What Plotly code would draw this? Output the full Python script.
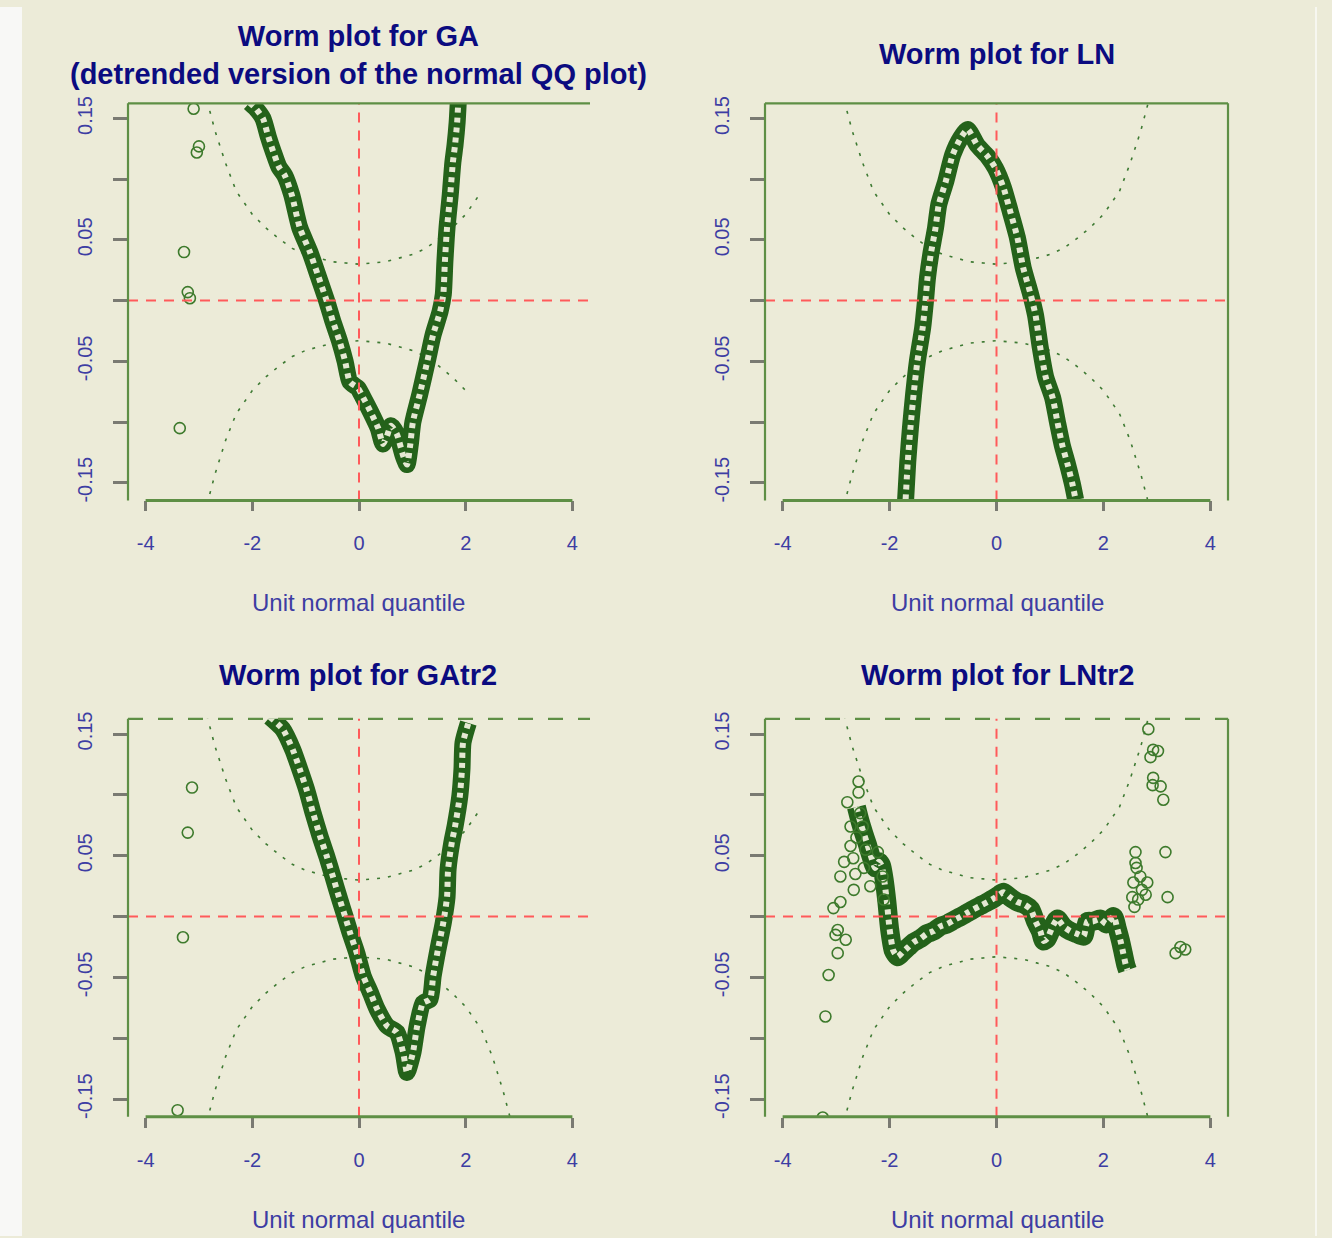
import plotly.graph_objects as go

W, H = 1332, 1238

# ---------------- data ----------------
titles = ["Worm plot for GA<br>(detrended version of the normal QQ plot)",
          "Worm plot for LN", "Worm plot for GAtr2", "Worm plot for LNtr2"]
xlabel = "Unit normal quantile"

x_ticks = [-4, -2, 0, 2, 4]
x_tick_text = ["-4", "-2", "0", "2", "4"]
y_ticks = [-0.15, -0.10, -0.05, 0.0, 0.05, 0.10, 0.15]
y_tick_text = ["-0.15", "", "-0.05", "", "0.05", "", "0.15"]

# confidence band (dotted curves)
band_z = [-2.85, -2.7, -2.5, -2.3, -2.0, -1.75, -1.5, -1.25, -1.0, -0.75, -0.5, -0.25, 0.0,
          0.25, 0.5, 0.75, 1.0, 1.25, 1.5, 1.75, 2.0, 2.3, 2.5, 2.7, 2.85]
band_upper = [0.165, 0.140, 0.113, 0.090, 0.071, 0.060, 0.051, 0.043, 0.038, 0.035, 0.032, 0.031, 0.030,
              0.031, 0.032, 0.035, 0.038, 0.043, 0.051, 0.060, 0.071, 0.090, 0.113, 0.140, 0.165]
band_lower = [-0.168, -0.143, -0.115, -0.093, -0.074, -0.063, -0.054, -0.046, -0.041, -0.038, -0.035, -0.034, -0.033,
              -0.034, -0.035, -0.038, -0.041, -0.046, -0.054, -0.063, -0.074, -0.093, -0.115, -0.143, -0.168]
# how far to the right each panel's band curves are visible
band_upper_zmax = [2.3, 2.85, 2.4, 2.85]
band_lower_zmax = [2.2, 2.85, 2.85, 2.85]

# Worm for GA
ga_z = [-2.05, -1.93, -1.80, -1.70, -1.61, -1.50, -1.39, -1.26, -1.11, -0.92, -0.77, -0.60, -0.49, -0.36,
        -0.26, -0.17, -0.02, 0.08, 0.21, 0.36, 0.45, 0.52, 0.60, 0.71, 0.83, 0.90, 0.96, 1.01, 1.14, 1.28,
        1.39, 1.52, 1.58, 1.61, 1.65, 1.71, 1.76, 1.80, 1.84, 1.86]
ga_y = [0.163, 0.158, 0.150, 0.135, 0.123, 0.110, 0.103, 0.087, 0.060, 0.040, 0.021, -0.001, -0.017, -0.034,
        -0.050, -0.067, -0.072, -0.080, -0.091, -0.105, -0.118, -0.112, -0.103, -0.110, -0.128, -0.135, -0.119,
        -0.100, -0.077, -0.050, -0.028, -0.009, 0.005, 0.032, 0.060, 0.087, 0.114, 0.128, 0.147, 0.163]
ga_out_z = [-3.10, -3.04, -3.00, -3.28, -3.21, -3.17, -3.36]
ga_out_y = [0.158, 0.122, 0.127, 0.040, 0.007, 0.002, -0.105]

# Worm for LN
ln_z = [-1.70, -1.66, -1.61, -1.55, -1.48, -1.38, -1.33, -1.29, -1.23, -1.14, -1.08, -0.95, -0.82, -0.67,
        -0.54, -0.36, -0.17, -0.02, 0.13, 0.26, 0.39, 0.50, 0.64, 0.73, 0.82, 0.92, 1.05, 1.14, 1.23, 1.33,
        1.42, 1.48]
ln_y = [-0.164, -0.133, -0.105, -0.077, -0.050, -0.022, -0.001, 0.019, 0.038, 0.060, 0.079, 0.098, 0.120,
        0.134, 0.141, 0.128, 0.119, 0.109, 0.093, 0.073, 0.052, 0.027, 0.005, -0.012, -0.039, -0.063, -0.080,
        -0.100, -0.119, -0.135, -0.151, -0.164]

# Worm for GAtr2
gat_z = [-1.67, -1.43, -1.24, -1.11, -0.98, -0.86, -0.73, -0.60, -0.49, -0.36, -0.26, -0.17, -0.04, 0.08,
         0.21, 0.34, 0.53, 0.71, 0.83, 0.90, 1.01, 1.09, 1.20, 1.33, 1.39, 1.48, 1.58, 1.65, 1.67, 1.74,
         1.80, 1.89, 1.93, 1.95, 2.05]
gat_y = [0.164, 0.154, 0.137, 0.121, 0.104, 0.085, 0.066, 0.049, 0.033, 0.014, 0.000, -0.013, -0.030, -0.049,
         -0.062, -0.076, -0.090, -0.095, -0.112, -0.128, -0.112, -0.090, -0.071, -0.068, -0.049, -0.027, -0.005,
         0.016, 0.039, 0.061, 0.074, 0.099, 0.121, 0.143, 0.159]
gat_out_z = [-3.13, -3.21, -3.30, -3.40]
gat_out_y = [0.106, 0.069, -0.017, -0.159]

# Worm for LNtr2
lnt_z = [-2.62, -2.55, -2.48, -2.42, -2.35, -2.27, -2.20, -2.15, -2.10, -2.05, -2.00, -1.93, -1.85, -1.75,
         -1.65, -1.55, -1.42, -1.30, -1.18, -1.05, -0.92, -0.80, -0.67, -0.55, -0.43, -0.30, -0.17, -0.05,
         0.05, 0.13, 0.25, 0.39, 0.52, 0.64, 0.73, 0.82, 0.88, 0.95, 1.05, 1.14, 1.25, 1.38, 1.50, 1.63,
         1.70, 1.80, 1.94, 2.05, 2.19, 2.26, 2.32, 2.37, 2.42, 2.45]
lnt_y = [0.090, 0.078, 0.068, 0.060, 0.050, 0.040, 0.045, 0.042, 0.030, 0.012, -0.010, -0.028, -0.033,
         -0.029, -0.025, -0.021, -0.018, -0.014, -0.012, -0.008, -0.006, -0.003, 0.000, 0.003, 0.006, 0.009,
         0.012, 0.015, 0.018, 0.020, 0.016, 0.012, 0.010, 0.006, -0.004, -0.012, -0.020, -0.018, -0.008,
         -0.002, -0.008, -0.012, -0.014, -0.016, -0.004, -0.004, -0.002, -0.006, 0.000, -0.010, -0.020,
         -0.030, -0.040, -0.044]
lnt_out_z = [-2.58, -2.58, -2.79, -2.73, -2.50, -2.73, -2.62, -2.45, -2.22, -2.92, -2.64, -2.67, -2.36,
             -2.13, -2.11, -2.92, -3.05, -2.97, -2.82, -2.97, -2.85, -2.55, -2.68, -2.48, -3.01,
             -3.14, -3.20, -3.25,
             2.60, 2.60, 2.69, 2.56, 2.82, 2.54, 2.79, 2.65, 2.62, 2.72, 2.58,
             2.84, 2.93, 3.02, 2.88, 2.93, 3.07, 2.92, 3.12,
             3.16, 3.20, 3.44, 3.35, 3.53]
lnt_out_y = [0.111, 0.102, 0.094, 0.074, 0.074, 0.058, 0.065, 0.055, 0.053, 0.033, 0.035, 0.022, 0.025,
             0.033, 0.014, 0.012, 0.007, -0.011, -0.019, -0.030, 0.045, 0.085, 0.048, 0.040, -0.015,
             -0.048, -0.082, -0.165,
             0.053, 0.044, 0.033, 0.028, 0.028, 0.016, 0.018, 0.014, 0.040, 0.022, 0.008,
             0.154, 0.137, 0.136, 0.131, 0.114, 0.107, 0.108, 0.096,
             0.053, 0.016, -0.025, -0.030, -0.027]

worms = [(ga_z, ga_y, ga_out_z, ga_out_y),
         (ln_z, ln_y, [], []),
         (gat_z, gat_y, gat_out_z, gat_out_y),
         (lnt_z, lnt_y, lnt_out_z, lnt_out_y)]

# ---------------- styling / layout ----------------
BG = "#ECEBD8"
GREEN = "#24621A"
BOXGREEN = "#5E8F45"
BAND = "#3E7A33"
OUT = "#3D7A2C"
REF = "#FF5A5A"
TICKCOL = "#7A7A72"
LABCOL = "#3D3DA3"
TITLECOL = "#0B0B80"
FONT = "Liberation Sans, Arial, sans-serif"

# panel boxes in pixels: (left, right, top, bottom)
boxes = [(128, 590, 97, 497), (765, 1228, 97, 497), (128, 590, 717, 1118), (765, 1228, 717, 1118)]
title_pos = [(358, 48), (997, 47), (358, 673), (997, 673)]
xlab_pos = [(358, 600), (997, 600), (358, 1221), (997, 1221)]

fig = go.Figure()
shapes = []
annotations = []

for i in range(4):
    n = "" if i == 0 else str(i + 1)
    xa, ya = "x" + n, "y" + n
    l, r, t, b = boxes[i]

    # confidence band curves
    for yy, zmax in ((band_upper, band_upper_zmax[i]), (band_lower, band_lower_zmax[i])):
        zz = [z for z in band_z if z <= zmax]
        fig.add_trace(go.Scatter(x=zz, y=yy[:len(zz)], mode="lines", xaxis=xa, yaxis=ya,
                                 line=dict(color=BAND, width=1.6, dash="3px,8px"),
                                 showlegend=False, hoverinfo="skip"))
    wz, wy, oz, oy = worms[i]
    wide = 19 if i == 3 else 17
    fig.add_trace(go.Scatter(x=wz, y=wy, mode="lines", xaxis=xa, yaxis=ya,
                             line=dict(color=GREEN, width=wide, shape="spline", smoothing=0.6),
                             showlegend=False))
    fig.add_trace(go.Scatter(x=wz, y=wy, mode="lines", xaxis=xa, yaxis=ya,
                             line=dict(color="#E4E8D2", width=6, dash="5px,5px", shape="spline", smoothing=0.6),
                             showlegend=False, hoverinfo="skip"))
    if oz:
        fig.add_trace(go.Scatter(x=oz, y=oy, mode="markers", xaxis=xa, yaxis=ya,
                                 marker=dict(symbol="circle-open", size=11, color=OUT,
                                             line=dict(width=1.6, color=OUT)),
                                 showlegend=False))

    dom_x = [l / W, r / W]
    dom_y = [1 - b / H, 1 - t / H]
    fig.update_layout(**{
        "xaxis" + n: dict(domain=dom_x, range=[-4.33, 4.33], anchor=ya, showgrid=False, zeroline=False,
                          showline=False, tickvals=x_ticks, ticktext=x_tick_text, ticks="outside",
                          ticklen=10, tickwidth=2.5, tickcolor=TICKCOL,
                          tickfont=dict(family=FONT, size=20, color=LABCOL), ticklabelstandoff=15),
        "yaxis" + n: dict(domain=dom_y, range=[-0.1645, 0.1625], anchor=xa, showgrid=False, zeroline=False,
                          showline=False, tickvals=y_ticks, ticktext=y_tick_text, ticks="outside",
                          ticklen=14, tickwidth=2.5, tickcolor=TICKCOL, tickangle=-90,
                          tickfont=dict(family=FONT, size=20, color=LABCOL), ticklabelstandoff=13),
    })

    # red reference lines
    shapes.append(dict(type="line", xref=xa, yref=ya + " domain", x0=0, x1=0, y0=0, y1=1,
                       line=dict(color=REF, width=2, dash="10px,8px")))
    shapes.append(dict(type="line", xref=xa + " domain", yref=ya, x0=0, x1=1, y0=0, y1=0,
                       line=dict(color=REF, width=2, dash="10px,8px")))
    # frame
    shapes.append(dict(type="line", xref=xa + " domain", yref=ya + " domain", x0=0, x1=0, y0=0, y1=1,
                       line=dict(color=BOXGREEN, width=2.2)))
    shapes.append(dict(type="line", xref=xa + " domain", yref=ya + " domain", x0=0, x1=1, y0=1, y1=1,
                       line=dict(color=BOXGREEN, width=2.2, dash="solid" if i < 2 else "longdash")))
    if i % 2 == 1:
        shapes.append(dict(type="line", xref=xa + " domain", yref=ya + " domain", x0=1, x1=1, y0=0, y1=1,
                           line=dict(color=BOXGREEN, width=2.2)))
    shapes.append(dict(type="line", xref=xa, yref=ya + " domain", x0=-4, x1=4, y0=0, y1=0,
                       line=dict(color=BOXGREEN, width=3)))

    tx, ty = title_pos[i]
    annotations.append(dict(text="<b>" + titles[i] + "</b>", x=tx / W, y=1 - ty / H, xref="paper", yref="paper",
                            xanchor="center", yanchor="middle", showarrow=False,
                            font=dict(family=FONT, size=29, color=TITLECOL)))
    lx, ly = xlab_pos[i]
    annotations.append(dict(text=xlabel, x=lx / W, y=1 - ly / H, xref="paper", yref="paper",
                            xanchor="center", yanchor="middle", showarrow=False,
                            font=dict(family=FONT, size=24, color=LABCOL)))

# white strip on the left and thin light line on the right
shapes.append(dict(type="rect", xref="paper", yref="paper", x0=0, x1=22 / W, y0=0, y1=1,
                   fillcolor="#F8F8F6", line=dict(width=0), layer="below"))
shapes.append(dict(type="line", xref="paper", yref="paper", x0=1316 / W, x1=1316 / W, y0=0, y1=1,
                   line=dict(color="#F7F7F0", width=2), layer="below"))

fig.update_layout(width=W, height=H, margin=dict(l=0, r=0, t=0, b=0),
                  paper_bgcolor=BG, plot_bgcolor=BG, shapes=shapes, annotations=annotations,
                  showlegend=False)

fig.write_html("out.html")
